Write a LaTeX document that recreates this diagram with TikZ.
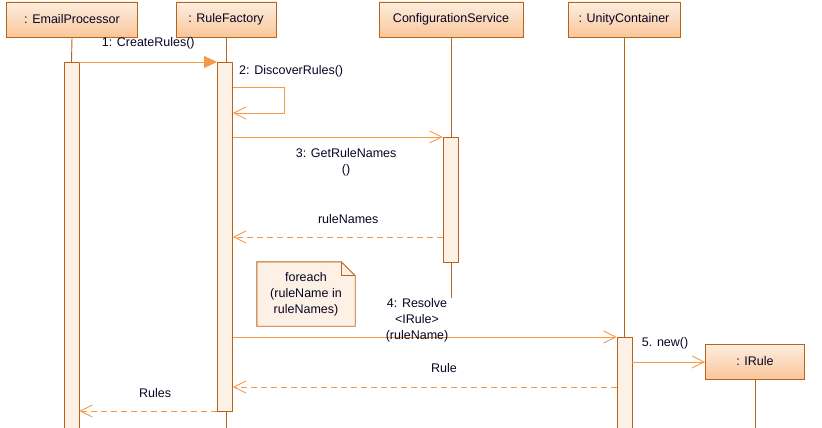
\documentclass[tikz,border=0pt]{standalone}
\usepackage{fontspec}
\setmainfont{Liberation Sans}
\usetikzlibrary{arrows.meta, calc, positioning}
\definecolor{umlEdge}{RGB}{184,98,26}
\definecolor{umlLine}{RGB}{247,152,72}
\definecolor{umlTop}{RGB}{253,238,224}
\definecolor{umlBot}{RGB}{250,198,154}
\definecolor{umlBar}{RGB}{253,240,228}
\definecolor{umlText}{RGB}{5,5,35}
\tikzset{
    objBox/.style={rectangle, draw=umlEdge, line width=0.9pt, top color=umlTop, bottom color=umlBot, minimum height=35pt, inner sep=0pt, font=\fontsize{12.5}{16}\selectfont, text=umlText},
    actBar/.style={rectangle, draw=umlEdge, fill=umlBar, line width=0.9pt, minimum width=15pt, inner sep=0pt, anchor=north},
    lifeLine/.style={draw=umlEdge, line width=0.9pt},
    msgSync/.style={draw=umlLine, line width=0.9pt, -{Triangle[length=13pt, width=12pt, fill=umlLine]}},
    msgCall/.style={draw=umlLine, line width=0.9pt, -{Straight Barb[length=12pt, width=12pt]}},
    msgReturn/.style={msgCall, dash pattern=on 6pt off 4pt},
    msgText/.style={font=\fontsize{12.5}{16}\selectfont, text=umlText, align=center, inner sep=0pt},
}
\newcommand{\drawMsg}[6][msgCall]{
    \draw[#1] (#2 |- 0,#4) -- node[msgText, pos=#6] {#5} (#3 |- 0,#4);
}

\begin{document}
\begin{tikzpicture}[x=1pt, y=-1pt]
    \useasboundingbox (0,0) rectangle (822,428);

    % objects
    \node[objBox, minimum width=131pt] (ep) at (72,19.5) {: EmailProcessor};
    \node[objBox, minimum width=100pt] (rf) at (226,19.5) {: RuleFactory};
    \node[objBox, minimum width=144pt] (cs) at (451,19.5) {ConfigurationService};
    \node[objBox, minimum width=112pt] (uc) at (624,19.5) {: UnityContainer};
    \node[objBox, minimum width=99pt] (ir) at (755,361.5) {: IRule};

    % lifelines
    \coordinate (rfEnd) at (226,432);
    \coordinate (csEnd) at (451,298);
    \coordinate (ucEnd) at (624,432);
    \coordinate (irEnd) at (755,432);
    \draw[lifeLine] (rf.south) -- (rfEnd);
    \draw[lifeLine] (cs.south) -- (csEnd);
    \draw[lifeLine] (uc.south) -- (ucEnd);
    \draw[lifeLine] (ir.south) -- (irEnd);

    % activations
    \node[actBar, minimum height=372pt] (epBar) at (71.5,62) {};
    \node[actBar, minimum height=349pt] (rfBar) at (225,62) {};
    \node[actBar, minimum height=125pt] (csBar) at (450.5,137) {};
    \node[actBar, minimum height=95pt] (ucBar) at (624.5,337) {};
    \draw[lifeLine] (ep.south) -- (epBar.north);

    % note
    \node[fill=umlBar, minimum width=98pt, minimum height=64pt, inner sep=0pt, font=\fontsize{12.5}{16}\selectfont, text=umlText, align=center] (note) at (306,294) {foreach\\(ruleName in\\ruleNames)};
    \fill[white] ($(note.north east)+(-14,0)$) -- (note.north east) -- ($(note.north east)+(0,14)$) -- cycle;
    \draw[umlEdge, line width=0.9pt] (note.north west) -- ($(note.north east)+(-14,0)$) -- ($(note.north east)+(0,14)$) -- (note.south east) -- (note.south west) -- cycle;
    \draw[umlEdge, line width=0.9pt] ($(note.north east)+(-14,0)$) -- ++(0,14) -- ++(14,0);

    % messages
    \drawMsg[msgSync, every node/.append style={yshift=19pt}]{epBar.east}{rfBar.west}{62}{1: CreateRules()}{0.5}
    \draw[msgCall] (rfBar.east |- 0,87) -- ++(51,0) |- (rfBar.east |- 0,113);
    \node[msgText, anchor=west] (discover) at (239,71) {2: DiscoverRules()};
    \drawMsg[msgCall, every node/.append style={yshift=-25pt}]{rfBar.east}{csBar.west}{137}{3: GetRuleNames\\()}{0.54}
    \drawMsg[msgReturn, every node/.append style={yshift=18pt}]{csBar.west}{rfBar.east}{237}{ruleNames}{0.45}
    \drawMsg[msgCall, every node/.append style={yshift=17pt}]{rfBar.east}{ucBar.west}{337}{4: Resolve\\<IRule>\\(ruleName)}{0.48}
    \drawMsg[msgCall, every node/.append style={yshift=19pt}]{ucBar.east}{ir.west}{362}{5. new()}{0.45}
    \drawMsg[msgReturn, every node/.append style={yshift=19pt}]{ucBar.west}{rfBar.east}{387}{Rule}{0.45}
    \drawMsg[msgReturn, every node/.append style={yshift=18pt}]{rfBar.west}{epBar.east}{411}{Rules}{0.45}

\end{tikzpicture}
\end{document}
